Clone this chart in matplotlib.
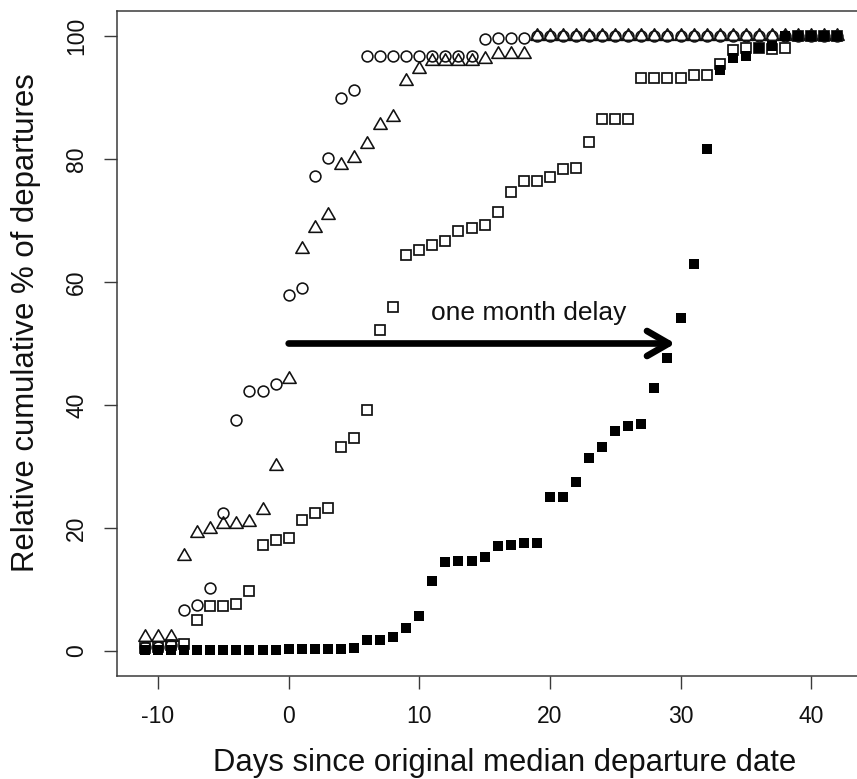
import matplotlib
matplotlib.use("Agg")
import matplotlib.pyplot as plt
from matplotlib.path import Path

plt.rcParams['font.family'] = ['Liberation Sans', 'DejaVu Sans']
plt.rcParams['axes.unicode_minus'] = False

days = list(range(-11, 43))

circles = [0.6, 0.6, 0.9, 6.7, 7.5, 10.2, 22.5, 37.6, 42.2, 42.2, 43.4,
           57.9, 59.1, 77.2, 80.1, 89.9, 91.2,
           96.7, 96.7, 96.7, 96.7, 96.7, 96.7, 96.7, 96.7, 96.7,
           99.5, 99.7, 99.7, 99.7] + [100.0] * 24

triangles = [2.3, 2.3, 2.3, 15.4, 19.2, 19.8, 20.6, 20.6, 20.9, 23.0, 30.1,
             44.3, 65.3, 68.7, 70.9, 79.0, 80.1, 82.4, 85.5, 86.9, 92.7, 94.6,
             95.9, 95.9, 95.9, 95.9, 96.3, 97.0, 97.0, 97.0] + [100.0] * 24

open_squares = [0.5, 0.7, 0.9, 1.1, 5.0, 7.3, 7.3, 7.6, 9.8, 17.2, 18.0,
                18.3, 21.3, 22.5, 23.3, 33.1, 34.6, 39.2, 52.2, 55.9, 64.4, 65.2,
                66.0, 66.6, 68.3, 68.7, 69.2, 71.4, 74.7, 76.4, 76.5, 77.0, 78.3,
                78.6, 82.8, 86.5, 86.5, 86.5, 93.1, 93.1, 93.1, 93.1, 93.7, 93.7,
                95.4, 97.8, 98.1, 98.0, 97.9, 98.0, 100.0, 100.0, 100.0, 100.0]

filled_squares = [0.1, 0.1, 0.1, 0.1, 0.2, 0.2, 0.2, 0.2, 0.2, 0.2, 0.2,
                  0.3, 0.3, 0.3, 0.4, 0.4, 0.5,
                  1.8, 1.8, 2.2, 3.7, 5.7, 11.4, 14.4, 14.7, 14.7, 15.3,
                  17.1, 17.2, 17.6, 17.6, 25.1, 25.1, 27.4, 31.4, 33.1, 35.8,
                  36.6, 36.9, 42.7, 47.6, 54.2, 63.0, 81.6, 94.4, 96.4, 96.7,
                  98.0, 98.3, 100.0, 100.0, 100.0, 100.0, 100.0]

arrow_x = [0, 29.6]
arrow_y = [50, 50]
note_text = "one month delay"
note_pos = (18.35, 53.9)

x_ticks = [-10, 0, 10, 20, 30, 40]
y_ticks = [0, 20, 40, 60, 80, 100]
x_label = "Days since original median departure date"
y_label = "Relative cumulative % of departures"

W, H = 857, 779
fig = plt.figure(figsize=(W / 100, H / 100), dpi=100)
ax = fig.add_axes([117.3 / W, 1 - 675.6 / H, (865 - 117.3) / W, (675.6 - 11.4) / H])

ink = '#111111'
tri = Path([(0, 1), (-0.866, -0.5), (0.866, -0.5), (0, 1)],
           [Path.MOVETO, Path.LINETO, Path.LINETO, Path.CLOSEPOLY])

ax.plot(days, circles, linestyle='none', marker='o', ms=7.8,
        mfc='none', mec=ink, mew=1.15, zorder=3)
ax.plot(days, triangles, linestyle='none', marker=tri, ms=11.1,
        mfc='none', mec=ink, mew=1.15, zorder=3)
ax.plot(days, open_squares, linestyle='none', marker='s', ms=7.3,
        mfc='none', mec=ink, mew=1.25, zorder=4)
ax.plot(days, filled_squares, linestyle='none', marker='s', ms=7.7,
        mfc='black', mec='black', mew=0, zorder=5)

ax.annotate('', xy=(arrow_x[1], arrow_y[1]), xytext=(arrow_x[0], arrow_y[0]),
            arrowprops=dict(arrowstyle='->,head_length=0.78,head_width=0.45',
                            lw=4.8, color='black', shrinkA=0, shrinkB=0,
                            mutation_scale=20, capstyle='round',
                            joinstyle='round'), zorder=6)
ax.text(note_pos[0], note_pos[1], note_text, ha='center', va='baseline',
        fontsize=19, color=ink)

ax.set_xlim(-13.12, 44.12)
ax.set_ylim(-4, 104)
ax.set_xticks(x_ticks)
ax.set_yticks(y_ticks)
ax.set_xticklabels([str(v) for v in x_ticks])
ax.set_yticklabels([str(v) for v in y_ticks], rotation=90, va='center')

for s in ax.spines.values():
    s.set_color('#3a3a3a')
    s.set_linewidth(1.1)
ax.tick_params(direction='out', length=9.7, width=1.0, color='#3a3a3a',
               labelsize=16.5, labelcolor=ink, pad=11.3)

fig.text(505 / W, (H - 771) / H, x_label, ha='center', va='baseline',
         fontsize=22.4, color=ink)
fig.text(25.8 / W, 1 - 323 / H, y_label, ha='center', va='center',
         rotation=90, fontsize=22.4, color=ink)

fig.savefig('out.png', dpi=100)
